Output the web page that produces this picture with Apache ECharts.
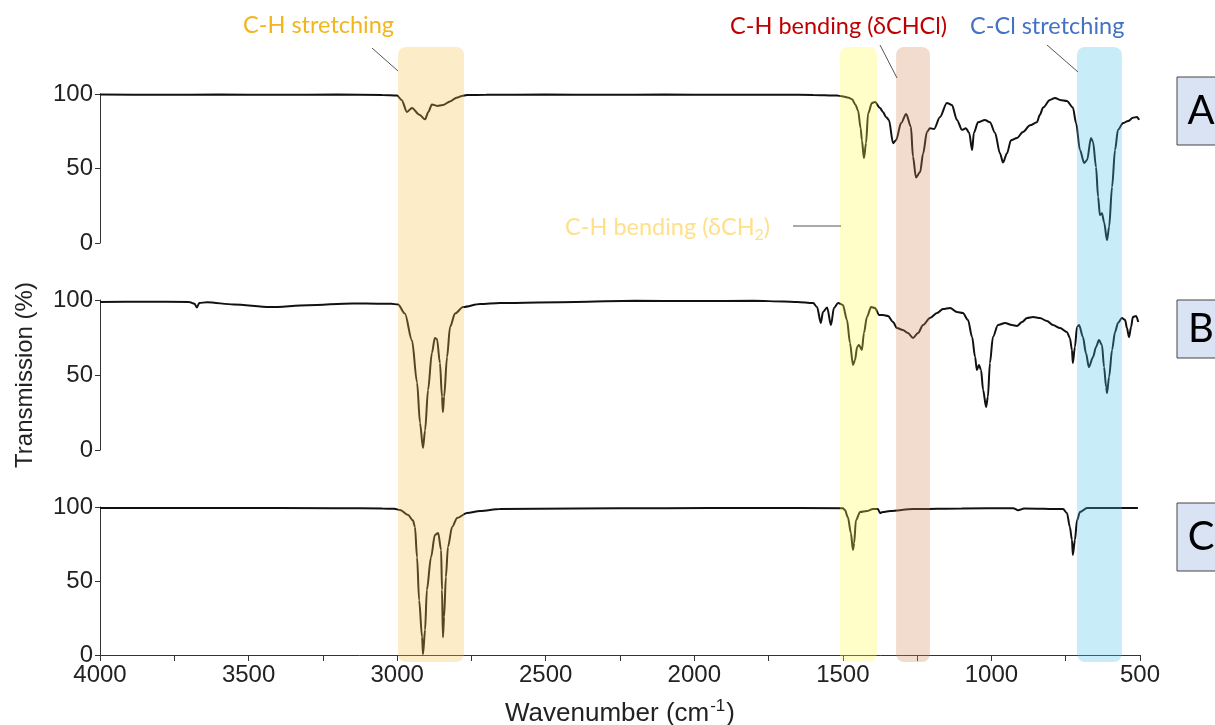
<!DOCTYPE html>
<html>
<head>
<meta charset="utf-8">
<title>FTIR spectra</title>
<script src="https://cdn.jsdelivr.net/npm/echarts@6/dist/echarts.min.js"></script>
<style>
  html, body { margin: 0; padding: 0; background: #ffffff; }
  #chart { width: 1215px; height: 725px; }
</style>
</head>
<body>
<div id="chart"></div>
<script>
// Spectrum A: [wavenumber (cm-1), transmission (%)]
const specA = [
  [4000,99.6],[3800,99.5],[3600,99.6],[3400,99.5],[3200,99.6],[3050,99.4],[3000,99],[2985,96],
  [2967,88],[2950,90.6],[2925,86],[2906,83],[2895,88],[2883,93],[2865,92],[2846,92.6],[2822,95],
  [2800,97.5],[2782,98.7],[2765,99.3],[2700,99.5],[2500,99.6],[2300,99.5],[2100,99.6],[1900,99.5],
  [1700,99.5],[1600,99.4],[1520,99],[1503,98.5],[1480,97.5],[1469,96.5],[1458,93],[1449,89],
  [1440,77],[1436,69],[1429,57],[1422,67],[1415,87],[1402,94],[1392,94.6],[1375,90.6],[1365,88],
  [1355,84.6],[1345,82.6],[1331,67],[1321,69],[1304,80.5],[1287,86.6],[1271,78],[1264,58],
  [1254,44],[1240,47.6],[1230,60],[1217,74.5],[1207,77],[1193,76.5],[1173,84.6],[1150,94],
  [1133,92.6],[1116,82.6],[1099,76],[1086,77],[1075,74],[1065,62.4],[1059,74],[1045,81],
  [1022,82.6],[1005,81],[988,74],[971,60],[961,54],[948,60],[934,69],[914,70.5],[894,74.5],
  [870,79],[847,81],[837,86],[826,91],[803,96],[786,97.3],[769,96],[746,95.3],[726,91],
  [715,80.5],[702,62.4],[688,53.7],[678,55.7],[665,70.5],[658,67.8],[648,51],[641,31],
  [635,18.8],[628,20],[621,14],[611,2],[604,10.7],[594,37.6],[584,62.4],[574,76],[557,80.5],
  [540,81.9],[524,84],[510,84.6],[503,82.6]
];

// Spectrum B
const specB = [
  [4000,98.7],[3850,98.9],[3700,98.7],[3682,97.5],[3674,95],[3666,98],[3640,98.5],[3550,97],
  [3428,95.3],[3300,96.5],[3150,97.7],[3058,97.5],[3020,97.5],[2997,97],[2974,91],[2950,73],
  [2933,45],[2923,18],[2913,1.3],[2906,13],[2896,40],[2883,64.7],[2873,74.7],[2866,74],
  [2856,58],[2849,35.5],[2846,25.3],[2842,35.5],[2832,62],[2822,82],[2805,91],[2778,95.3],
  [2721,97.3],[2654,98],[2400,98.7],[2200,99.5],[2000,99.3],[1800,99.5],[1700,99],[1654,98.7],
  [1600,98],[1587,95.3],[1574,84.7],[1567,92],[1553,95],[1540,83.3],[1530,94.7],[1516,98],
  [1500,96.7],[1486,86.7],[1476,71.3],[1466,56.7],[1459,60],[1452,68.7],[1446,70],[1436,66.7],
  [1429,78],[1419,88.7],[1405,95.3],[1392,94.7],[1378,90],[1365,90],[1348,89.3],[1331,85.3],
  [1318,81.3],[1298,80],[1281,78],[1264,74.7],[1247,78],[1230,83.3],[1207,88],[1183,91.3],
  [1163,94],[1139,94.7],[1116,92],[1096,91.3],[1079,86.7],[1065,75.3],[1055,62],[1049,53.3],
  [1042,56.7],[1035,53.3],[1028,40],[1018,28.7],[1012,35.3],[1005,58],[995,75.3],[978,83.3],
  [954,84.7],[931,83.3],[914,82.7],[897,85.3],[880,88],[860,88.7],[837,88],[813,86],[793,83.3],
  [769,81.3],[746,78.7],[736,74.7],[729,66.7],[726,58],[719,68.7],[712,82],[705,83.3],[692,75.3],
  [682,64.7],[672,55.3],[658,62],[648,68.7],[638,73.3],[628,70],[621,55.3],[614,42],[611,38],
  [604,48.7],[594,66.7],[584,78.7],[574,84.7],[561,88],[550,86.7],[544,81.3],[537,75.3],
  [530,82],[524,88.7],[513,89.3],[506,85.3]
];

// Spectrum C
const specC = [
  [4000,99.3],[3600,99.3],[3200,99.2],[3050,99],[3010,98.8],[2990,98],[2963,94.6],[2947,91],
  [2940,86.5],[2933,66],[2926,37],[2916,12],[2913,0.5],[2906,17],[2900,44],[2886,66],[2873,81],
  [2862,82.4],[2852,71],[2849,44],[2846,12],[2842,25.7],[2836,52.7],[2829,73],[2815,86.5],
  [2798,92.6],[2765,96],[2721,97.3],[2654,98.6],[2400,99],[2100,99.2],[1800,99.3],[1500,99.2],
  [1493,98],[1483,93],[1473,82.4],[1466,71],[1462,75.7],[1456,91],[1442,96.6],[1419,97.3],
  [1399,98.6],[1382,98.6],[1375,96],[1365,96.6],[1341,97.3],[1264,98.6],[1100,99],[927,99.2],
  [910,97.8],[890,99],[759,98.6],[746,96],[736,86.5],[729,77.7],[726,67.6],[719,77.7],[712,91],
  [702,96.6],[678,99.3],[600,99.3],[507,99.3]
];

// Highlighted absorption regions: [from, to] in cm-1, with band fill colour
const bandRanges = [[2997, 2775], [1510, 1385], [1321, 1207], [712, 561]];
const bandColors = ['rgba(248,192,72,0.3)', 'rgba(255,248,72,0.3)', 'rgba(212,138,88,0.3)', 'rgba(72,192,232,0.3)'];

const panelLetters = ['A', 'B', 'C'];
const yTicks = [0, 50, 100];

const chart = echarts.init(document.getElementById('chart'), null, { renderer: 'canvas' });

const AXIS_COLOR = '#333';
const LABEL_FONT = 'Liberation Sans, Arial, sans-serif';
const NOTE_FONT = 'Lato, "Open Sans", sans-serif';

const panelTops = [94, 300, 507];
const panelHeights = [149, 150, 148];

function panelY(i) {
  return {
    gridIndex: i, type: 'value', min: yTicks[0], max: yTicks[yTicks.length - 1], interval: 50,
    axisLine: { show: true, lineStyle: { color: AXIS_COLOR, width: 1 } },
    axisTick: { show: true, length: 5, lineStyle: { color: AXIS_COLOR } },
    axisLabel: { fontSize: 24, color: '#222', fontFamily: LABEL_FONT, margin: 7 },
    splitLine: { show: false },
    name: i === 1 ? 'Transmission (%)' : '',
    nameLocation: 'middle', nameGap: 63,
    nameTextStyle: { fontSize: 24, color: '#222', fontFamily: LABEL_FONT }
  };
}

function panelX(i, visible) {
  return {
    gridIndex: i, type: 'value', min: 500, max: 4000, interval: 250, inverse: true,
    show: visible,
    axisLine: { show: true, onZero: false, lineStyle: { color: AXIS_COLOR, width: 1 } },
    axisTick: { show: true, length: 6, lineStyle: { color: AXIS_COLOR } },
    axisLabel: {
      fontSize: 24, color: '#222', fontFamily: LABEL_FONT, margin: 8,
      formatter: v => (v % 500 === 0 ? String(v) : '')
    },
    splitLine: { show: false },
    name: visible ? 'Wavenumber (cm{sup|-1})' : '',
    nameLocation: 'middle', nameGap: 43,
    nameTextStyle: {
      fontSize: 26, color: '#222', fontFamily: LABEL_FONT, lineHeight: 32,
      rich: { sup: { fontSize: 17, color: '#222', fontFamily: LABEL_FONT, verticalAlign: 'top', lineHeight: 32, padding: [0, 1, 14, 1] } }
    }
  };
}

function spectrum(data, i) {
  return {
    type: 'line', xAxisIndex: i, yAxisIndex: i, data: data,
    showSymbol: false, smooth: 0.3, smoothMonotone: 'x', clip: false, z: 2,
    lineStyle: { color: '#111', width: 2 }
  };
}

function leader(x1, y1, x2, y2) {
  return { type: 'line', shape: { x1, y1, x2, y2 }, style: { stroke: '#555', lineWidth: 1 }, z: 10 };
}

function note(text, x, y, color, size, rich) {
  return {
    type: 'text', x, y, z: 10,
    style: { text, fill: color, font: size + 'px ' + NOTE_FONT, textVerticalAlign: 'middle', rich: rich || undefined }
  };
}

function letterBox(letter, y, h) {
  return {
    type: 'group', x: 1177, y: y, z: 10,
    children: [
      { type: 'rect', shape: { x: 0, y: 0, width: 60, height: h }, style: { fill: '#dae3f3', stroke: '#444', lineWidth: 1 } },
      { type: 'text', x: 24, y: h / 2, style: { text: letter, fill: '#000', font: '40px ' + NOTE_FONT, textAlign: 'center', textVerticalAlign: 'middle' } }
    ]
  };
}

function panelGrid(top, height) {
  return { left: 100, right: 75, top: top, height: height, outerBoundsMode: 'none', containLabel: false };
}

const option = {
  animation: false,
  backgroundColor: '#ffffff',
  grid: [
    panelGrid(panelTops[0], panelHeights[0]),
    panelGrid(panelTops[1], panelHeights[1]),
    panelGrid(panelTops[2], panelHeights[2]),
    panelGrid(47, 615)
  ],
  xAxis: [panelX(0, false), panelX(1, false), panelX(2, true), panelX(3, false)],
  yAxis: [panelY(0), panelY(1), panelY(2), { gridIndex: 3, type: 'value', min: 0, max: 1, show: false }],
  series: [
    spectrum(specA, 0),
    spectrum(specB, 1),
    spectrum(specC, 2),
    {
      type: 'custom', xAxisIndex: 3, yAxisIndex: 3, z: 5, silent: true,
      data: bandRanges.map((r, k) => [r[0], r[1], k]),
      renderItem: (params, api) => {
        const p1 = api.coord([api.value(0), 1]);
        const p2 = api.coord([api.value(1), 0]);
        const x = Math.min(p1[0], p2[0]);
        return {
          type: 'rect',
          shape: { x: x, y: p1[1], width: Math.abs(p2[0] - p1[0]), height: p2[1] - p1[1], r: 8 },
          style: { fill: bandColors[api.value(2)] }
        };
      }
    }
  ],
  graphic: [
    note('C-H stretching', 243, 25, '#f2b51c', 23.5),
    note('C-H bending (δCHCl)', 730, 26, '#c00000', 23.5),
    note('C-Cl stretching', 970, 26, '#4472c4', 23.5),
    note('C-H bending (δCH{sub|2})', 565, 227, '#ffe08a', 23.5, {
      sub: { fill: '#ffe08a', font: '16px ' + NOTE_FONT, verticalAlign: 'bottom', padding: [16, 0, 0, 0] }
    }),
    leader(372, 48, 398, 71),
    leader(880, 45, 897, 78),
    leader(1047, 45, 1078, 72),
    leader(793, 226, 841, 226),
    letterBox(panelLetters[0], 77, 68),
    letterBox(panelLetters[1], 300, 58),
    letterBox(panelLetters[2], 503, 68)
  ]
};

chart.setOption(option);
</script>
</body>
</html>
